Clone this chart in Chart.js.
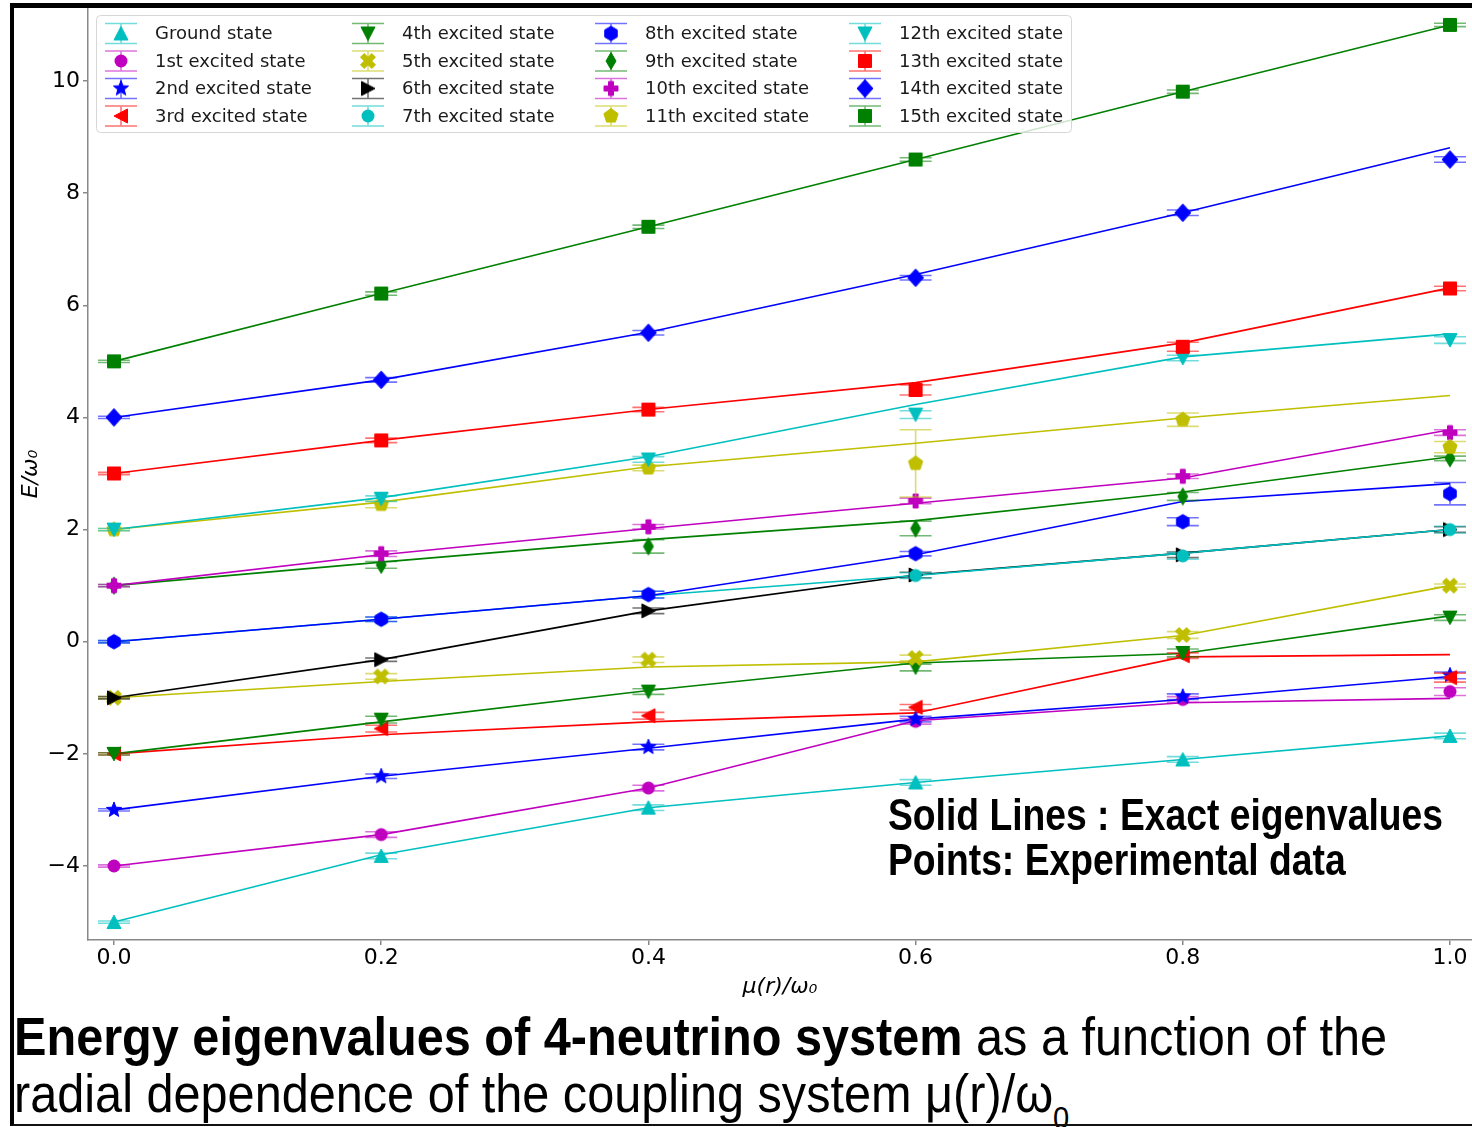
<!DOCTYPE html>
<html><head><meta charset="utf-8">
<script src="https://cdn.jsdelivr.net/npm/chart.js@4.4.1/dist/chart.umd.min.js"></script>
<style>
html,body{margin:0;padding:0;background:#fff;overflow:hidden;}
body{width:1472px;height:1127px;position:relative;}
#c{position:absolute;left:0;top:0;}
.frame{position:absolute;left:10px;top:3px;width:1500px;height:1123px;border-top:5px solid #000;border-left:4px solid #000;border-bottom:2px solid #111;box-sizing:border-box;pointer-events:none;}
.txt{position:absolute;white-space:nowrap;font-family:"Liberation Sans",Arial,sans-serif;color:#000;transform-origin:0 0;line-height:1;}
.note{font-size:45px;font-weight:bold;left:888px;}
.cap{font-size:53px;left:14px;}
.cap sub{font-size:0.6em;vertical-align:-0.55em;line-height:0;}
</style></head>
<body>
<canvas id="c" width="1480" height="1000"></canvas>
<div class="txt note" id="n1" style="top:792px">Solid Lines : Exact eigenvalues</div>
<div class="txt note" id="n2" style="top:837px">Points: Experimental data</div>
<div class="txt cap" id="c1" style="top:1010px"><b>Energy eigenvalues of 4-neutrino system</b> as a function of the</div>
<div class="txt cap" id="c2" style="top:1067px">radial dependence of the coupling system μ(r)/ω<sub>0</sub></div>
<div class="frame"></div>
<script>
// ---------------- DATA ----------------
const muValues = [0, 0.2, 0.4, 0.6, 0.8, 1.0];
const xTicks = [0, 0.2, 0.4, 0.6, 0.8, 1.0];
const yTicks = [-4, -2, 0, 2, 4, 6, 8, 10];
const stateNames = ['Ground state','1st excited state','2nd excited state','3rd excited state',
  '4th excited state','5th excited state','6th excited state','7th excited state',
  '8th excited state','9th excited state','10th excited state','11th excited state',
  '12th excited state','13th excited state','14th excited state','15th excited state'];

const exact0 = [-5.00, -3.80, -2.96, -2.51, -2.10, -1.68];
const meas0  = [-5.00, -3.82, -2.96, -2.51, -2.10, -1.68];
const err0   = [0.02, 0.05, 0.05, 0.05, 0.05, 0.05];

const exact1 = [-4.00, -3.44, -2.61, -1.41, -1.09, -1.01];
const meas1  = [-4.00, -3.44, -2.61, -1.42, -1.03, -0.89];
const err1   = [0.02, 0.05, 0.05, 0.05, 0.05, 0.07];

const exact2 = [-3.00, -2.40, -1.90, -1.38, -1.03, -0.62];
const meas2  = [-3.00, -2.40, -1.88, -1.38, -0.98, -0.60];
const err2   = [0.02, 0.04, 0.05, 0.05, 0.05, 0.06];

const exact3 = [-2.00, -1.66, -1.43, -1.27, -0.27, -0.23];
const meas3  = [-2.00, -1.55, -1.32, -1.17, -0.25, -0.64];
const err3   = [0.02, 0.06, 0.06, 0.05, 0.05, 0.08];

const exact4 = [-2.00, -1.43, -0.87, -0.38, -0.21, 0.46];
const meas4  = [-2.00, -1.39, -0.89, -0.46, -0.20, 0.43];
const err4   = [0.02, 0.06, 0.05, 0.06, 0.07, 0.05];

const exact5 = [-1.00, -0.71, -0.45, -0.36, 0.11, 1.00];
const meas5  = [-1.00, -0.62, -0.32, -0.29, 0.12, 1.00];
const err5   = [0.02, 0.05, 0.05, 0.05, 0.06, 0.03];

const exact6 = [-1.00, -0.32, 0.55, 1.19, 1.58, 2.00];
const meas6  = [-1.00, -0.32, 0.55, 1.19, 1.55, 2.00];
const err6   = [0.02, 0.03, 0.05, 0.05, 0.05, 0.05];

const exact7 = [0.00, 0.40, 0.82, 1.18, 1.58, 2.00];
const meas7  = [0.00, 0.40, 0.84, 1.18, 1.53, 2.00];
const err7   = [0.02, 0.04, 0.06, 0.05, 0.06, 0.06];

const exact8 = [0.00, 0.40, 0.82, 1.55, 2.50, 2.82];
const meas8  = [0.00, 0.40, 0.84, 1.57, 2.14, 2.64];
const err8   = [0.02, 0.04, 0.06, 0.04, 0.07, 0.20];

const exact9 = [1.00, 1.42, 1.82, 2.16, 2.67, 3.30];
const meas9  = [1.00, 1.37, 1.70, 2.02, 2.59, 3.27];
const err9   = [0.02, 0.06, 0.12, 0.13, 0.07, 0.04];

const exact10 = [1.00, 1.55, 2.02, 2.47, 2.92, 3.78];
const meas10  = [1.00, 1.57, 2.05, 2.51, 2.95, 3.73];
const err10   = [0.02, 0.05, 0.04, 0.05, 0.04, 0.05];

const exact11 = [2.00, 2.49, 3.12, 3.54, 3.99, 4.39];
const meas11  = [2.00, 2.45, 3.10, 3.18, 3.96, 3.47];
const err11   = [0.02, 0.06, 0.05, 0.60, 0.12, 0.10];

const exact12 = [2.00, 2.57, 3.30, 4.23, 5.08, 5.49];
const meas12  = [2.00, 2.55, 3.25, 4.05, 5.06, 5.38];
const err12   = [0.02, 0.05, 0.05, 0.07, 0.05, 0.06];

const exact13 = [3.00, 3.59, 4.14, 4.62, 5.33, 6.31];
const meas13  = [3.00, 3.59, 4.14, 4.49, 5.26, 6.30];
const err13   = [0.02, 0.04, 0.04, 0.09, 0.08, 0.04];

const exact14 = [4.00, 4.67, 5.52, 6.55, 7.65, 8.81];
const meas14  = [4.00, 4.67, 5.51, 6.49, 7.65, 8.60];
const err14   = [0.02, 0.04, 0.04, 0.04, 0.05, 0.05];

const exact15 = [5.00, 6.21, 7.40, 8.60, 9.81, 11.00];
const meas15  = [5.00, 6.21, 7.40, 8.60, 9.81, 11.00];
const err15   = [0.02, 0.03, 0.03, 0.03, 0.03, 0.03];

// ---------------- STYLE ----------------
const stateColors = ['#00bfbf','#bf00bf','#0000ff','#ff0000','#008000','#bfbf00','#000000','#00bfbf',
                     '#0000ff','#008000','#bf00bf','#bfbf00','#00bfbf','#ff0000','#0000ff','#008000'];
const stateMarkers = ['triUp','circle','star','triLeft','triDown','xFill','triRight','circle',
                      'hex','thinDiamond','plusFill','pent','triDown','square','diamond','square'];

const exactSeries = [exact0,exact1,exact2,exact3,exact4,exact5,exact6,exact7,exact8,exact9,exact10,exact11,exact12,exact13,exact14,exact15];
const measSeries = [meas0,meas1,meas2,meas3,meas4,meas5,meas6,meas7,meas8,meas9,meas10,meas11,meas12,meas13,meas14,meas15];
const errSeries = [err0,err1,err2,err3,err4,err5,err6,err7,err8,err9,err10,err11,err12,err13,err14,err15];

function hexToRgba(h, a){
  const r=parseInt(h.slice(1,3),16), g=parseInt(h.slice(3,5),16), b=parseInt(h.slice(5,7),16);
  return `rgba(${r},${g},${b},${a})`;
}

function makeMarker(shape, color){
  const S = 26, c = document.createElement('canvas');
  c.width = S; c.height = S;
  const g = c.getContext('2d');
  g.translate(S/2, S/2);
  g.fillStyle = color; g.strokeStyle = color; g.lineWidth = 1; g.lineJoin = 'miter';
  const poly = pts => { g.beginPath(); pts.forEach((p,i)=> i ? g.lineTo(p[0],p[1]) : g.moveTo(p[0],p[1])); g.closePath(); g.fill(); g.stroke(); };
  const reg = (n, r) => { const pts=[]; for(let i=0;i<n;i++){ const a=i*2*Math.PI/n; pts.push([r*Math.sin(a), -r*Math.cos(a)]); } return pts; };
  const plus = (e, w, rot) => {
    const base = [[-w,-e],[w,-e],[w,-w],[e,-w],[e,w],[w,w],[w,e],[-w,e],[-w,w],[-e,w],[-e,-w],[-w,-w]];
    const cs=Math.cos(rot), sn=Math.sin(rot);
    return base.map(p=>[p[0]*cs-p[1]*sn, p[0]*sn+p[1]*cs]);
  };
  switch(shape){
    case 'triUp': poly([[0,-7],[-7,6.5],[7,6.5]]); break;
    case 'triDown': poly([[0,7],[-7,-6.5],[7,-6.5]]); break;
    case 'triLeft': poly([[-7,0],[6.5,-7],[6.5,7]]); break;
    case 'triRight': poly([[7,0],[-6.5,-7],[-6.5,7]]); break;
    case 'circle': g.beginPath(); g.arc(0,0,6.5,0,Math.PI*2); g.fill(); break;
    case 'star': { const pts=[]; for(let i=0;i<10;i++){ const r=i%2?3.4:8; const a=i*Math.PI/5; pts.push([r*Math.sin(a), -r*Math.cos(a)]);} poly(pts); break; }
    case 'xFill': poly(plus(8, 2.6, Math.PI/4)); break;
    case 'plusFill': poly(plus(7, 2.5, 0)); break;
    case 'hex': poly(reg(6, 7.2)); break;
    case 'pent': poly(reg(5, 7.5)); break;
    case 'thinDiamond': poly([[0,-8.5],[5,0],[0,8.5],[-5,0]]); break;
    case 'diamond': poly([[0,-8.8],[8,0],[0,8.8],[-8,0]]); break;
    case 'square': poly([[-6.5,-6.5],[6.5,-6.5],[6.5,6.5],[-6.5,6.5]]); break;
  }
  return c;
}

const markerImgs = stateMarkers.map((m,i)=>makeMarker(m, stateColors[i]));

const datasets = [];
exactSeries.forEach((arr, i) => datasets.push({
  label: stateNames[i] + ' (exact)',
  data: muValues.map((x,j)=>({x, y: arr[j]})),
  showLine: true, borderColor: stateColors[i], backgroundColor: stateColors[i],
  borderWidth: 1.6, pointRadius: 0, pointHoverRadius: 0, tension: 0, order: 200 - i
}));
measSeries.forEach((arr, i) => datasets.push({
  label: stateNames[i],
  data: muValues.map((x,j)=>({x, y: arr[j]})),
  showLine: false, pointStyle: markerImgs[i], pointRadius: 7, pointHoverRadius: 7,
  borderColor: stateColors[i], backgroundColor: stateColors[i],
  errors: errSeries[i], errColor: hexToRgba(stateColors[i], 0.55), order: 100 - i
}));

const errorBarPlugin = {
  id: 'errbars',
  beforeDatasetDraw(chart, args){
    const ds = chart.data.datasets[args.index];
    if (!ds.errors) return;
    const xs = chart.scales.x, ys = chart.scales.y, ctx = chart.ctx, a = chart.chartArea;
    ctx.save();
    ctx.beginPath(); ctx.rect(a.left, a.top, a.right-a.left, a.bottom-a.top); ctx.clip();
    ctx.strokeStyle = ds.errColor; ctx.lineWidth = 1.6;
    ds.data.forEach((p,i)=>{
      const e = ds.errors[i];
      const px = xs.getPixelForValue(p.x);
      const t = ys.getPixelForValue(p.y + e), b = ys.getPixelForValue(p.y - e);
      ctx.beginPath();
      ctx.moveTo(px, t); ctx.lineTo(px, b);
      ctx.moveTo(px-16, t); ctx.lineTo(px+16, t);
      ctx.moveTo(px-16, b); ctx.lineTo(px+16, b);
      ctx.stroke();
    });
    ctx.restore();
  }
};

const legendPlugin = {
  id: 'gridLegend',
  afterDatasetsDraw(chart){
    const ctx = chart.ctx;
    ctx.save();
    const bx = 96.5, by = 15.5, bw = 975, bh = 117, r = 4;
    ctx.beginPath();
    ctx.moveTo(bx+r, by); ctx.lineTo(bx+bw-r, by); ctx.arcTo(bx+bw, by, bx+bw, by+r, r);
    ctx.lineTo(bx+bw, by+bh-r); ctx.arcTo(bx+bw, by+bh, bx+bw-r, by+bh, r);
    ctx.lineTo(bx+r, by+bh); ctx.arcTo(bx, by+bh, bx, by+bh-r, r);
    ctx.lineTo(bx, by+r); ctx.arcTo(bx, by, bx+r, by, r); ctx.closePath();
    ctx.fillStyle = 'rgba(255,255,255,0.8)'; ctx.fill();
    ctx.strokeStyle = '#d6d6d6'; ctx.lineWidth = 1; ctx.stroke();
    const mx = [121, 368, 611, 865], tx = [155, 402, 645, 899], ry = [33.5, 61, 88.5, 116];
    ctx.font = '18px "DejaVu Sans"'; ctx.textBaseline = 'middle'; ctx.textAlign = 'left';
    stateNames.forEach((name, i)=>{
      const col = Math.floor(i/4), row = i%4;
      const x = mx[col], y = ry[row];
      ctx.strokeStyle = hexToRgba(stateColors[i], 0.55); ctx.lineWidth = 1.6;
      ctx.beginPath();
      ctx.moveTo(x, y-10); ctx.lineTo(x, y+10);
      ctx.moveTo(x-16, y-10); ctx.lineTo(x+16, y-10);
      ctx.moveTo(x-16, y+10); ctx.lineTo(x+16, y+10);
      ctx.stroke();
      const img = markerImgs[i];
      ctx.drawImage(img, x - img.width/2, y - img.height/2);
      ctx.fillStyle = '#1a1a1a';
      ctx.fillText(name, tx[col], y + 1);
    });
    ctx.restore();
  }
};

Chart.defaults.font.family = '"DejaVu Sans", sans-serif';
new Chart(document.getElementById('c'), {
  type: 'scatter',
  data: { datasets },
  plugins: [errorBarPlugin, legendPlugin],
  options: {
    responsive: false, animation: false, devicePixelRatio: 1, events: [],
    layout: { padding: { top: 8, left: 0, right: 0, bottom: 0 } },
    plugins: { legend: { display: false }, tooltip: { enabled: false } },
    scales: {
      x: {
        type: 'linear', min: -0.01946, max: 1.01647,
        afterBuildTicks: s => { s.ticks = xTicks.map(v => ({ value: v })); },
        afterFit: s => { s.height = 60; s.paddingLeft = 0; s.paddingRight = 0; },
        ticks: { autoSkip: false, maxRotation: 0, padding: 0, color: '#000', font: { size: 22 },
                 callback: v => Number(v).toFixed(1) },
        grid: { drawOnChartArea: false, drawTicks: true, tickLength: 5, color: '#888', lineWidth: 1.5 },
        border: { display: true, color: '#888', width: 1.5 },
        title: { display: true, text: 'μ(r)/ω₀', color: '#000', font: { size: 22, style: 'italic' }, padding: { top: 0, bottom: 0 } }
      },
      y: {
        type: 'linear', min: -5.32, max: 11.302,
        afterBuildTicks: s => { s.ticks = yTicks.map(v => ({ value: v })); },
        afterFit: s => { s.width = 88; s.paddingTop = 0; s.paddingBottom = 0; },
        ticks: { autoSkip: false, padding: 3, color: '#000', font: { size: 22 },
                 callback: v => String(v).replace('-', '\u2212') },
        grid: { drawOnChartArea: false, drawTicks: true, tickLength: 5, color: '#888', lineWidth: 1.5 },
        border: { display: true, color: '#888', width: 1.5 },
        title: { display: true, text: 'E/ω₀', color: '#000', font: { size: 22, style: 'italic' }, padding: { top: 18, bottom: 0 } }
      }
    }
  }
});

function fitText(){
  const pairs = [[['n1','n2'], 555], [['c1','c2'], 1373]];
  pairs.forEach(([ids, target])=>{
    const first = document.getElementById(ids[0]);
    first.style.transform = 'none';
    const w = first.getBoundingClientRect().width;
    const k = target / w;
    ids.forEach(id => { document.getElementById(id).style.transform = `scaleX(${k})`; });
  });
}
fitText();
if (document.fonts && document.fonts.ready) document.fonts.ready.then(fitText);
</script>
</body></html>
